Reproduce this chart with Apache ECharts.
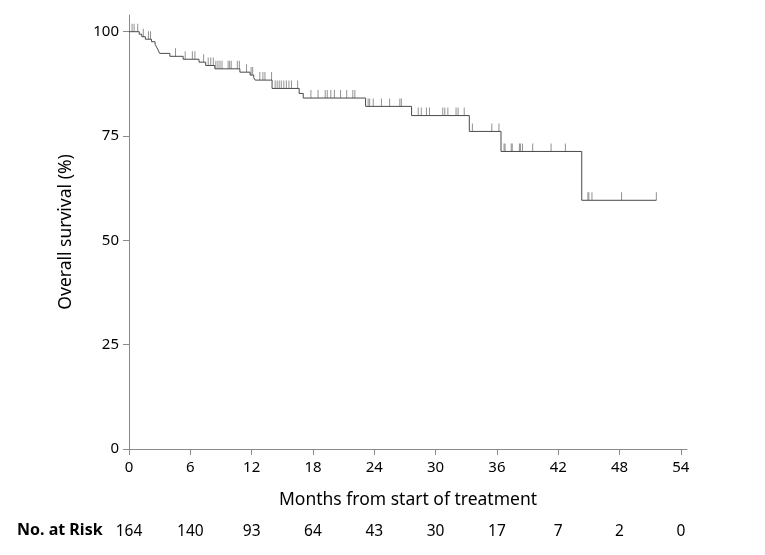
<!DOCTYPE html>
<html><head><meta charset="utf-8">
<script src="https://cdn.jsdelivr.net/npm/echarts@6/dist/echarts.min.js"></script>
<style>html,body{margin:0;padding:0;background:#fff}#c{width:765px;height:555px}</style>
</head><body><div id="c"></div>
<script>
// Kaplan-Meier step points (time in months, survival % after the event)
const stepTimes    = [0, 1.0, 1.25, 1.6, 2.2, 2.55, 2.7, 2.85, 3.0, 4.0, 5.3, 6.85, 7.5, 8.4, 10.85, 11.85, 12.2, 12.35, 14.0, 16.65, 17.05, 23.15, 27.65, 33.3, 36.4, 44.3, 51.6];
const stepSurvival = [100, 99.4, 98.8, 98.2, 97.6, 97.0, 96.3, 95.6, 94.8, 94.1, 93.4, 92.7, 91.9, 91.1, 90.3, 89.6, 89.0, 88.4, 86.4, 85.2, 84.1, 82.1, 79.9, 76.1, 71.3, 59.6, 59.6];
// Censoring times (months)
const censorTimes = [0.3, 0.5, 0.85, 1.4, 1.9, 2.1, 4.55, 5.5, 6.2, 6.45, 7.3, 7.75, 8.0, 8.25,
  8.5, 8.7, 8.9, 9.1, 9.7, 9.85, 10.0, 10.6, 10.8, 11.5, 11.95, 12.1, 12.8, 13.1, 13.3, 13.95,
  14.3, 14.5, 14.7, 14.9, 15.15, 15.4, 15.65, 15.9, 16.5, 17.8, 18.5, 19.2, 19.4, 19.75, 20.1,
  20.7, 21.3, 21.9, 22.1, 23.4, 23.55, 23.9, 24.7, 25.5, 26.5, 26.65, 28.3, 28.6, 29.1, 29.4,
  30.7, 30.9, 31.2, 32.0, 32.2, 32.8, 33.6, 35.5, 36.2, 36.7, 36.8, 37.4, 37.5, 38.2, 38.3,
  38.5, 39.5, 41.3, 42.7, 44.9, 45.0, 45.3, 48.2, 51.6];
const xTicks = [0, 6, 12, 18, 24, 30, 36, 42, 48, 54];
const atRisk = [164, 140, 93, 64, 43, 30, 17, 7, 2, 0];
const yTicks = [0, 25, 50, 75, 100];

function survivalAt(t) {
  let s = stepSurvival[0];
  for (let i = 0; i < stepTimes.length; i++) { if (stepTimes[i] <= t) s = stepSurvival[i]; }
  return s;
}
const curve = stepTimes.map((t, i) => [t, stepSurvival[i]]);
const censors = censorTimes.map(t => [t, survivalAt(t)]);

const FONT = '"Noto Sans", "Open Sans", sans-serif';
const chart = echarts.init(document.getElementById('c'), null, {renderer: 'canvas'});
chart.setOption({
  animation: false,
  backgroundColor: '#fff',
  grid: {left: 129, top: 15, right: 78, bottom: 106},
  graphic: [{
    type: 'text', left: 17, top: 522,
    style: {text: 'No. at Risk', font: 'bold 16px ' + FONT, fill: '#000'}
  }],
  xAxis: [{
    type: 'value', min: 0, max: 54.6,
    name: 'Months from start of treatment', nameLocation: 'middle', nameGap: 42,
    nameTextStyle: {fontFamily: FONT, fontSize: 17.5, color: '#000'},
    splitLine: {show: false},
    axisLine: {lineStyle: {color: '#8a8a8a', width: 1}},
    axisTick: {customValues: xTicks, length: 6, lineStyle: {color: '#8a8a8a'}},
    axisLabel: {customValues: xTicks, margin: 11, fontFamily: FONT, fontSize: 15, color: '#000'}
  }, {
    type: 'value', min: 0, max: 54.6, position: 'bottom', offset: 65,
    splitLine: {show: false}, axisLine: {show: false}, axisTick: {show: false},
    axisLabel: {customValues: xTicks, margin: 10, fontFamily: FONT, fontSize: 15.5, color: '#000',
      formatter: v => { const i = xTicks.indexOf(v); return i >= 0 ? String(atRisk[i]) : ''; }}
  }],
  yAxis: {
    type: 'value', min: 0, max: 104,
    name: 'Overall survival (%)', nameLocation: 'middle', nameGap: 54,
    nameTextStyle: {fontFamily: FONT, fontSize: 17.5, color: '#000'},
    splitLine: {show: false},
    axisLine: {show: true, lineStyle: {color: '#8a8a8a', width: 1}},
    axisTick: {show: true, customValues: yTicks, length: 6, lineStyle: {color: '#8a8a8a'}},
    axisLabel: {customValues: yTicks, margin: 10, fontFamily: FONT, fontSize: 15, color: '#000'}
  },
  series: [{
    type: 'line', step: 'end', data: curve, symbol: 'none',
    lineStyle: {color: '#4a4a4a', width: 1}, z: 3
  }, {
    type: 'scatter', data: censors, symbol: 'rect', symbolSize: [1, 8], symbolOffset: [0, -4],
    itemStyle: {color: '#777'}, z: 2
  }]
});
</script></body></html>
